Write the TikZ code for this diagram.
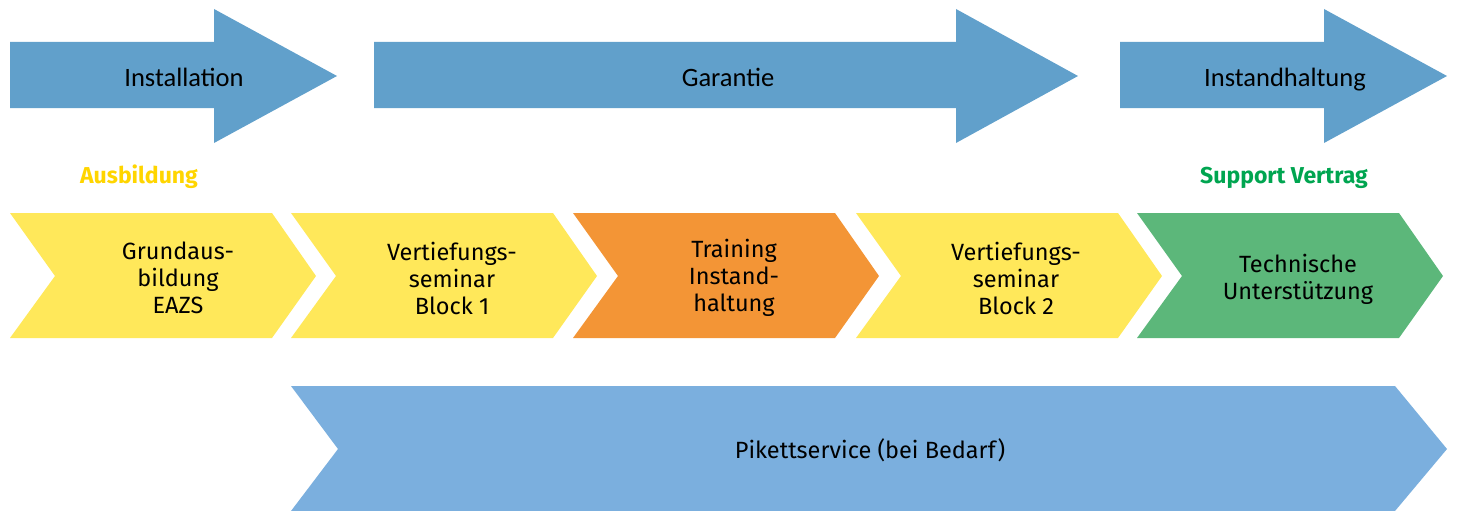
\documentclass[tikz,border=0pt]{standalone}
\usepackage{fontspec}
\setmainfont{Fira Sans}
\newfontfamily\arrowfont{Carlito}
\definecolor{topblue}{HTML}{61A0CB}
\definecolor{lowblue}{HTML}{7BAFDE}
\definecolor{chevyellow}{HTML}{FFE85A}
\definecolor{chevorange}{HTML}{F39536}
\definecolor{chevgreen}{HTML}{5CB77A}
\definecolor{labgold}{HTML}{FFD500}
\definecolor{labgreen}{HTML}{00A550}
\tikzset{
  arrowtext/.style={font=\arrowfont\fontsize{26.5}{30}\selectfont, text=black, anchor=base},
  chevtext/.style={font=\fontsize{23.5}{27}\selectfont, align=center, text=black},
  labtext/.style={font=\bfseries\fontsize{23}{26}\selectfont, anchor=base},
}
\begin{document}
\begin{tikzpicture}[x=1pt,y=-1pt]
\useasboundingbox (0,0) rectangle (1457,511);
% top arrows
\fill[topblue] (10,42) -- (214,42) -- (214,9) -- (337,76) -- (214,143) -- (214,108) -- (10,108) -- cycle;
\fill[topblue] (374,42) -- (956,42) -- (956,9) -- (1078,76) -- (956,143) -- (956,108) -- (374,108) -- cycle;
\fill[topblue] (1120,42) -- (1324,42) -- (1324,9) -- (1447,76) -- (1324,143) -- (1324,108) -- (1120,108) -- cycle;
\node[arrowtext] (inst) at (184,86) {Installation};
\node[arrowtext] (gar) at (728,86) {Garantie};
\node[arrowtext] (ih) at (1285,86) {Instandhaltung};
% labels
\node[labtext, text=labgold] (ausb) at (139,183) {Ausbildung};
\node[labtext, text=labgreen] (supp) at (1284,183) {Support Vertrag};
% chevrons
\foreach \L/\c in {10/chevyellow, 291/chevyellow, 573/chevorange, 856/chevyellow, 1137/chevgreen}{
  \fill[\c] (\L,213) -- (\L+262,213) -- (\L+306,276) -- (\L+262,338) -- (\L,338) -- (\L+45,276) -- cycle;
}
\node[chevtext] (c1) at (178,278) {Grundaus-\\bildung\\EAZS};
\node[chevtext] (c2) at (452,278) {Vertiefungs-\\seminar\\Block 1};
\node[chevtext] (c3) at (734,278) {Training\\Instand-\\haltung};
\node[chevtext] (c4) at (1016,278) {Vertiefungs-\\seminar\\Block 2};
\node[chevtext] (c5) at (1298,279) {Technische\\Unterstützung};
% bottom arrow
\fill[lowblue] (291,386) -- (1395,386) -- (1447,449) -- (1395,511) -- (291,511) -- (338,449) -- cycle;
\node[chevtext] (pik) at (870,450) {Pikettservice (bei Bedarf)};
\end{tikzpicture}
\end{document}
